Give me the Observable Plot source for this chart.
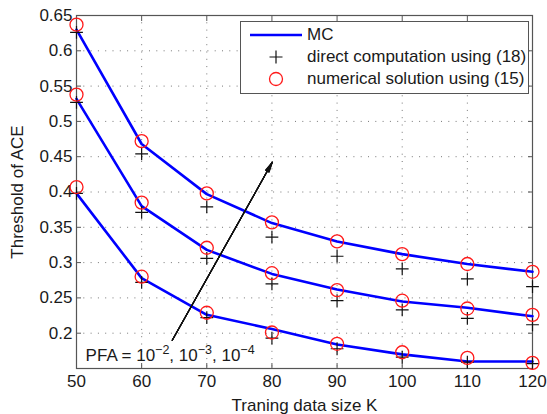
<!DOCTYPE html>
<html>
<head>
<meta charset="utf-8">
<script src="https://cdn.jsdelivr.net/npm/d3@7"></script>
<script src="https://cdn.jsdelivr.net/npm/@observablehq/plot@0.6"></script>
<style>
  html, body { margin: 0; padding: 0; background: #fff; }
  #wrap { position: relative; width: 547px; height: 414px; font-family: "Liberation Sans", Arial, sans-serif; }
  #legend { position: absolute; left: 240px; top: 21px; width: 287px; height: 69px; border: 1px solid #555; background: #fff; box-sizing: content-box; padding-top: 2px; }
  .row { display: flex; align-items: center; height: 22px; font-size: 17px; color: #1a1a1a; white-space: nowrap; }
  .row svg { margin-left: 9px; margin-right: 5px; flex: none; }
</style>
</head>
<body>
<div id="wrap"></div>
<script>
// Training data size K
const K = [50, 60, 70, 80, 90, 100, 110, 120];
const pfaLabels = ["1e-2", "1e-3", "1e-4"];

// MC curves
const mcP2 = [0.398, 0.278, 0.226, 0.206, 0.184, 0.170, 0.160, 0.160];
const mcP3 = [0.532, 0.380, 0.318, 0.284, 0.262, 0.245, 0.236, 0.224];
const mcP4 = [0.630, 0.468, 0.397, 0.356, 0.330, 0.312, 0.298, 0.287];

// direct computation using (18)
const directP2 = [0.398, 0.272, 0.222, 0.193, 0.178, 0.166, 0.159, 0.157];
const directP3 = [0.527, 0.371, 0.306, 0.270, 0.246, 0.233, 0.221, 0.212];
const directP4 = [0.626, 0.454, 0.379, 0.336, 0.309, 0.291, 0.277, 0.266];

// numerical solution using (15)
const numP2 = [0.407, 0.280, 0.229, 0.201, 0.185, 0.173, 0.165, 0.158];
const numP3 = [0.538, 0.385, 0.321, 0.285, 0.261, 0.246, 0.235, 0.226];
const numP4 = [0.637, 0.472, 0.398, 0.357, 0.330, 0.312, 0.298, 0.287];

const xTicks = [50, 60, 70, 80, 90, 100, 110, 120];
const yTicks = [0.2, 0.25, 0.3, 0.35, 0.4, 0.45, 0.5, 0.55, 0.6, 0.65];

// annotation
const arrowFrom = [64.7, 0.19];
const arrowTo = [80.05, 0.442];
const annParts = ["PFA = 10", "\u22122", ", 10", "\u22123", ", 10", "\u22124"];
const annPos = [51.4, 0.168];

function toRows(series) {
  const rows = [];
  series.forEach((vals, i) => vals.forEach((v, j) => rows.push({K: K[j], v, pfa: pfaLabels[i]})));
  return rows;
}
const mcRows = toRows([mcP2, mcP3, mcP4]);
const directRows = toRows([directP2, directP3, directP4]);
const numRows = toRows([numP2, numP3, numP4]);

const textColor = "#1a1a1a";
const frameColor = "#555";
const annText = annParts.join("");
const arrowData = [{x1: arrowFrom[0], y1: arrowFrom[1], x2: arrowTo[0], y2: arrowTo[1]}];

const chart = Plot.plot({
  width: 547,
  height: 414,
  marginLeft: 76,
  marginRight: 15,
  marginTop: 15,
  marginBottom: 46,
  style: {fontFamily: "Liberation Sans, Arial, sans-serif", fontSize: "17px", color: textColor, background: "#fff"},
  x: {domain: [50, 120]},
  y: {domain: [0.15, 0.65]},
  marks: [
    Plot.gridX(xTicks, {stroke: "#777", strokeOpacity: 1, strokeWidth: 1, strokeDasharray: "1,6.3"}),
    Plot.gridY(yTicks, {stroke: "#777", strokeOpacity: 1, strokeWidth: 1, strokeDasharray: "1,6.3"}),
    Plot.axisX(xTicks, {anchor: "bottom", tickSize: -5, tickPadding: 11, stroke: frameColor, fill: textColor, fontSize: 17,
      tickFormat: d => String(d), label: "Traning data size K", labelAnchor: "center", labelArrow: "none", labelOffset: 42}),
    Plot.axisX(xTicks, {anchor: "top", tickSize: -5, stroke: frameColor, tickFormat: () => "", label: null}),
    Plot.axisY(yTicks, {anchor: "left", tickSize: -5, tickPadding: 9, stroke: frameColor, fill: textColor, fontSize: 17,
      tickFormat: d => String(+d.toFixed(2)), label: "Threshold of ACE", labelAnchor: "center", labelArrow: "none", labelOffset: 66}),
    Plot.axisY(yTicks, {anchor: "right", tickSize: -5, stroke: frameColor, tickFormat: () => "", label: null}),
    Plot.frame({stroke: frameColor, strokeWidth: 1.2}),
    Plot.line(mcRows, {x: "K", y: "v", z: "pfa", stroke: "#0000ff", strokeWidth: 2.6}),
    Plot.dot(directRows, {x: "K", y: "v", symbol: "plus", r: 4.2, stroke: "#111", strokeWidth: 1.2}),
    Plot.dot(numRows, {x: "K", y: "v", symbol: "circle", r: 6.5, stroke: "#ff1a1a", strokeWidth: 1.3, fill: "none"}),
    ...[4, 8, 12, 16, 20, 24].map(a => Plot.arrow(arrowData,
      {x1: "x1", y1: "y1", x2: "x2", y2: "y2", stroke: "#111", strokeWidth: 1.1, headLength: 14, headAngle: a})),
    Plot.text([annText], {x: () => annPos[0], y: () => annPos[1], text: d => d, textAnchor: "start", fontSize: 17, fill: textColor})
  ]
});

// render the PFA exponents as real superscripts
for (const t of chart.querySelectorAll("text")) {
  if (t.textContent === annText) {
    t.textContent = "";
    const ns = "http://www.w3.org/2000/svg";
    annParts.forEach((p, i) => {
      const s = document.createElementNS(ns, "tspan");
      s.textContent = p;
      if (i % 2 === 1) { s.setAttribute("dy", "-7"); s.setAttribute("font-size", "12.5"); }
      else if (i > 0) { s.setAttribute("dy", "7"); }
      t.appendChild(s);
    });
  }
}

const wrap = document.getElementById("wrap");
wrap.appendChild(chart);

// legend
const legendItems = [
  {label: "MC", kind: "line"},
  {label: "direct computation using (18)", kind: "plus"},
  {label: "numerical solution using (15)", kind: "circle"}
];
const legend = document.createElement("div");
legend.id = "legend";
for (const it of legendItems) {
  const row = document.createElement("div");
  row.className = "row";
  let sym = "";
  if (it.kind === "line") sym = '<line x1="0" y1="11" x2="52" y2="11" stroke="#0000ff" stroke-width="2.6"/>';
  if (it.kind === "plus") sym = '<path d="M19.5,11H32.5M26,4.5V17.5" stroke="#111" stroke-width="1.2"/>';
  if (it.kind === "circle") sym = '<circle cx="26" cy="11" r="6.5" stroke="#ff1a1a" stroke-width="1.3" fill="none"/>';
  row.innerHTML = '<svg width="52" height="22">' + sym + '</svg><span>' + it.label + '</span>';
  legend.appendChild(row);
}
wrap.appendChild(legend);
</script>
</body>
</html>
